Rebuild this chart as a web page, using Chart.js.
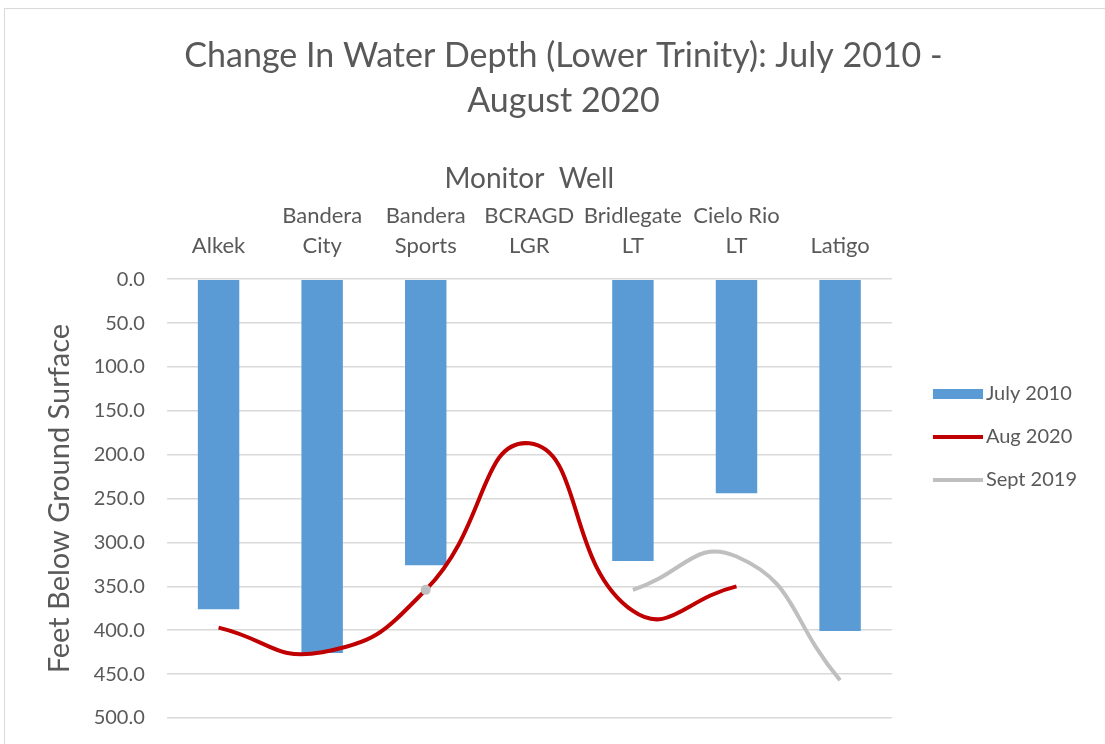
<!DOCTYPE html>
<html><head><meta charset="utf-8">
<script src="https://cdn.jsdelivr.net/npm/chart.js@4"></script>
<style>
html,body{margin:0;padding:0;background:#fff;overflow:hidden;}
#wrap{position:relative;width:1105px;height:744px;}
#frame{position:absolute;left:4px;top:8px;width:1120px;height:760px;border:1px solid #d9d9d9;pointer-events:none;}
canvas{position:absolute;left:0;top:0;}
</style></head><body>
<div id="wrap"><canvas id="c" width="1105" height="744"></canvas><div id="frame"></div></div>
<script>
const categories = ["Alkek", ["Bandera","City"], ["Bandera","Sports"], ["BCRAGD","LGR"], ["Bridlegate","LT"], ["Cielo Rio","LT"], "Latigo"];
const july2010 = [376, 426, 326, null, 321, 244, 401];
const aug2020 = [397, 425, 354, 187, 378, 350, null];
const sept2019 = [null, null, 354, null, 354, 316, 457];
const yTicks = [0, 50, 100, 150, 200, 250, 300, 350, 400, 450, 500];

const FONT = "Lato";
const TXT = "#595959";
const BLUE = '#5B9BD5', RED = '#C00000', GREY = '#BFBFBF';

function isolated(ctx) {
  const d = ctx.dataset.data, i = ctx.dataIndex;
  if (d[i] == null) return false;
  const prev = i > 0 ? d[i-1] : null, next = i < d.length-1 ? d[i+1] : null;
  return prev == null && next == null;
}

// legend symbols: drawn on the right part of a wider transparent image
function legendSymbol(color, h) {
  const c = document.createElement('canvas');
  c.width = 75; c.height = 12;
  const g = c.getContext('2d');
  g.fillStyle = color;
  g.fillRect(25, (12 - h) / 2, 50, h);
  return c;
}
const symbols = [legendSymbol(BLUE, 10), legendSymbol(RED, 4), legendSymbol(GREY, 4)];

new Chart(document.getElementById('c'), {
  data: {
    labels: categories,
    datasets: [
      { type: 'bar', label: 'July 2010', data: july2010, backgroundColor: BLUE, borderWidth: 0,
        barPercentage: 0.4, categoryPercentage: 1.0, order: 2 },
      { type: 'line', label: 'Aug 2020', data: aug2020, borderColor: RED, backgroundColor: RED,
        borderWidth: 4, tension: 0.5, pointRadius: 0, spanGaps: false, order: 1, fill: false },
      { type: 'line', label: 'Sept 2019', data: sept2019, borderColor: GREY, backgroundColor: GREY,
        borderWidth: 4, tension: 0.5, spanGaps: false, order: 0, fill: false,
        pointRadius: ctx => isolated(ctx) ? 5 : 0, pointBorderWidth: 0, pointBackgroundColor: GREY }
    ]
  },
  options: {
    responsive: false,
    animation: false,
    layout: { padding: { left: 40, right: 18, top: 0, bottom: 12 } },
    plugins: {
      tooltip: { enabled: false },
      title: {
        display: true,
        text: ["Change In Water Depth (Lower Trinity): July 2010 -", "August 2020"],
        color: TXT,
        font: { family: FONT, size: 34, weight: 'normal', lineHeight: 1.32 },
        padding: { top: 34, bottom: 38 }
      },
      legend: {
        position: 'right',
        title: { display: true, text: ' ', font: { size: 10 }, padding: { top: 130, bottom: 0 } },
        labels: {
          color: TXT,
          font: { family: FONT, size: 20 },
          usePointStyle: true,
          pointStyleWidth: 61,
          boxHeight: 12,
          padding: 23,
          sort: (a, b) => a.datasetIndex - b.datasetIndex,
          generateLabels: (chart) => {
            const items = Chart.defaults.plugins.legend.labels.generateLabels(chart);
            items.forEach(it => {
              it.pointStyle = symbols[it.datasetIndex];
              it.fontColor = TXT;
            });
            return items;
          }
        }
      }
    },
    scales: {
      x: {
        position: 'top',
        grid: { display: false, drawTicks: false },
        border: { display: false },
        ticks: { color: TXT, font: { family: FONT, size: 22, lineHeight: 1.36 }, padding: 18, maxRotation: 0, autoSkip: false },
        title: { display: true, text: 'Monitor  Well', color: TXT, font: { family: FONT, size: 28, lineHeight: 1.2 }, padding: { top: 0, bottom: -12 } }
      },
      y: {
        reverse: true,
        min: 0, max: 500,
        afterBuildTicks: (axis) => { axis.ticks = yTicks.map(v => ({ value: v })); },
        grid: { color: '#D9D9D9', lineWidth: 1.5, drawTicks: false },
        border: { display: false },
        ticks: { color: TXT, font: { family: FONT, size: 20, lineHeight: 0.4 }, padding: 22, callback: v => Number(v).toFixed(1) },
        title: { display: true, text: 'Feet Below Ground Surface', color: TXT, font: { family: FONT, size: 29, lineHeight: 0.85 }, padding: { top: 7, bottom: 0 } }
      }
    }
  }
});
</script>
</body></html>
